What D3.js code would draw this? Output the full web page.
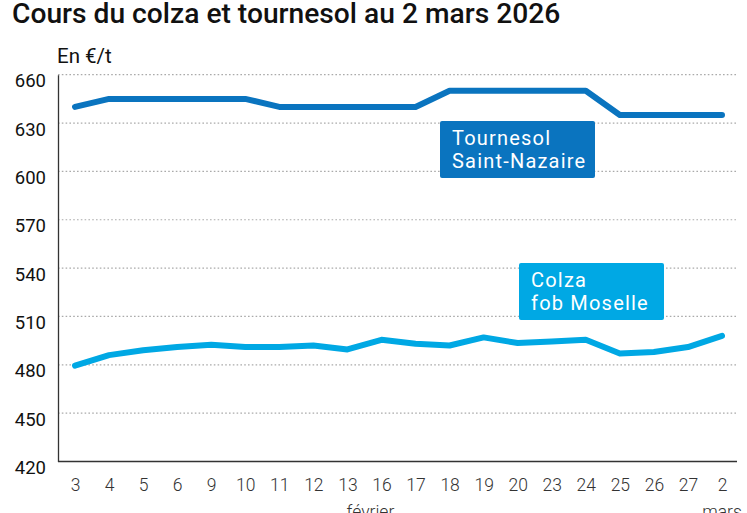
<!DOCTYPE html>
<html>
<head>
<meta charset="utf-8">
<script src="https://cdn.jsdelivr.net/npm/d3@7"></script>
<style>
  html, body { margin: 0; padding: 0; background: #fff; }
  svg { display: block; font-family: Roboto, "Noto Sans", sans-serif; }
</style>
</head>
<body>
<svg id="chart" width="747" height="513"></svg>
<script>
const days = ["3","4","5","6","9","10","11","12","13","16","17","18","19","20","23","24","25","26","27","2"];
const tournesol = [640,645,645,645,645,645,640,640,640,640,640,650,650,650,650,650,635,635,635,635];
const colza = [479.5,486,489,491,492.5,491,491,492,489.5,495.5,493,492,497,493.5,494.5,495.5,487,488,491,498];
const yTicks = [420,450,480,510,540,570,600,630,660];
const months = [{label:"février", from:"3", to:"27"}, {label:"mars", from:"2", to:"2"}];

const svg = d3.select("#chart");
const x = d3.scalePoint().domain(d3.range(days.length)).range([75, 722]);
const y = d3.scaleLinear().domain([420, 660]).range([461.5, 74.7]);
const left = 58, right = 737;

svg.append("text").attr("x", 12).attr("y", 22.5)
  .attr("font-size", 28.2).attr("font-weight", 500).attr("fill", "#111")
  .text("Cours du colza et tournesol au 2 mars 2026");

svg.append("text").attr("x", 57).attr("y", 63)
  .attr("font-size", 20.5).attr("fill", "#111").text("En €/t");

// gridlines
svg.append("g").selectAll("line").data(yTicks.filter(d => d > 420)).join("line")
  .attr("x1", left).attr("x2", right)
  .attr("y1", d => y(d)).attr("y2", d => y(d))
  .attr("stroke", "#aaa").attr("stroke-width", 1.2).attr("stroke-dasharray", "1.6,2.2");

// y axis
const yAxis = svg.append("g").attr("transform", `translate(${left},0)`)
  .call(d3.axisLeft(y).tickValues(yTicks).tickSize(0).tickPadding(12));
yAxis.select(".domain").attr("stroke", "#333").attr("stroke-width", 1.3);
yAxis.selectAll("text").attr("font-size", 18.5).attr("fill", "#111")
  .attr("font-family", "Roboto, sans-serif").attr("dy", "0.65em");

// x axis
const xAxis = svg.append("g").attr("transform", `translate(0,${y(420)})`)
  .call(d3.axisBottom(x).tickFormat(i => days[i]).tickSize(0).tickPadding(17));
xAxis.select(".domain").attr("d", `M${left},0H${right}`).attr("stroke", "#333").attr("stroke-width", 1.3);
xAxis.selectAll("text").attr("font-size", 17.5).attr("fill", "#333")
  .attr("font-family", "Roboto, sans-serif").attr("font-weight", 300);

// month labels
svg.append("g").selectAll("text").data(months).join("text")
  .attr("x", d => (x(days.indexOf(d.from)) + x(days.lastIndexOf(d.to))) / 2 + (d.label === "février" ? -11 : 0))
  .attr("y", 518).attr("text-anchor", "middle")
  .attr("font-size", 17.5).attr("font-weight", 300).attr("fill", "#333")
  .text(d => d.label);

const line = d3.line().x((d, i) => x(i)).y(d => y(d));
svg.append("path").datum(tournesol).attr("d", line)
  .attr("fill", "none").attr("stroke", "#0a74bf").attr("stroke-width", 6)
  .attr("stroke-linecap", "round").attr("stroke-linejoin", "round");
svg.append("path").datum(colza).attr("d", line)
  .attr("fill", "none").attr("stroke", "#00a8e4").attr("stroke-width", 6)
  .attr("stroke-linecap", "round").attr("stroke-linejoin", "round");

// labels
function box(x0, y0, w, h, color, lines) {
  const g = svg.append("g");
  g.append("rect").attr("x", x0).attr("y", y0).attr("width", w).attr("height", h)
    .attr("rx", 2).attr("fill", color);
  lines.forEach((t, i) => g.append("text").attr("x", x0 + 12).attr("y", y0 + 24 + i * 23)
    .attr("font-size", 20).attr("letter-spacing", 1.2).attr("fill", "#fff").text(t));
}
box(440, 121, 155, 57, "#0a74bf", ["Tournesol", "Saint-Nazaire"]);
box(519, 263, 145, 57, "#00a8e4", ["Colza", "fob Moselle"]);
</script>
</body>
</html>
